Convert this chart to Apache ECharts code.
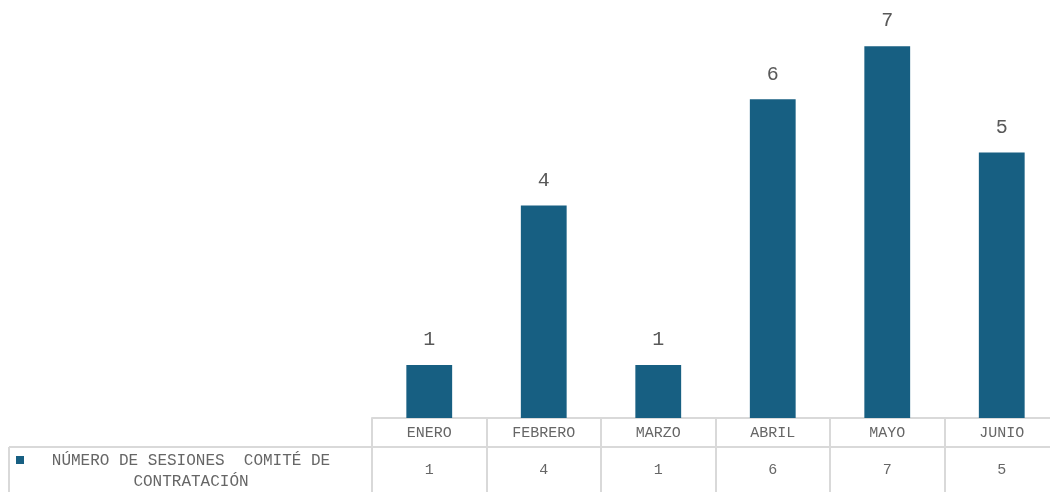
<!DOCTYPE html>
<html>
<head>
<meta charset="utf-8">
<script src="https://cdn.jsdelivr.net/npm/echarts@6/dist/echarts.min.js"></script>
<style>html,body{margin:0;padding:0;background:#fff}#c{width:1050px;height:492px}</style>
</head>
<body>
<div id="c"></div>
<script>
const categories = ['ENERO', 'FEBRERO', 'MARZO', 'ABRIL', 'MAYO', 'JUNIO'];
const values = [1, 4, 1, 6, 7, 5];
const seriesName = 'NÚMERO DE SESIONES  COMITÉ DE CONTRATACIÓN';
const headerLines = ['NÚMERO DE SESIONES  COMITÉ DE', 'CONTRATACIÓN'];

const FONT = '"Liberation Mono", "DejaVu Sans Mono", monospace';
const BAR = '#175f82';
const LINE = '#d9d9d9';
const TXT = '#666666';

const chart = echarts.init(document.getElementById('c'));
chart.setOption({
  animation: false,
  backgroundColor: '#ffffff',
  grid: { left: 372, top: -7, width: 687, height: 425, containLabel: false, outerBoundsMode: 'none' },
  xAxis: [
    {
      type: 'category',
      data: categories,
      position: 'bottom',
      axisLine: { show: true, lineStyle: { color: LINE, width: 2 } },
      axisTick: { show: true, length: 74, lineStyle: { color: LINE, width: 2 } },
      axisLabel: { color: TXT, fontFamily: FONT, fontSize: 15, margin: 8 }
    },
    {
      type: 'category',
      data: values.map(String),
      position: 'bottom',
      offset: 29,
      axisLine: { show: true, lineStyle: { color: LINE, width: 2 } },
      axisTick: { show: false },
      axisLabel: { color: TXT, fontFamily: FONT, fontSize: 15, margin: 16 }
    }
  ],
  yAxis: {
    type: 'value', min: 0, max: 8, interval: 1, show: false,
    splitLine: { show: false }
  },
  series: [{
    name: seriesName,
    type: 'bar',
    xAxisIndex: 0,
    data: values,
    barWidth: '40%',
    itemStyle: { color: BAR },
    label: {
      show: true, position: 'top', distance: 15,
      color: '#595959', fontFamily: FONT, fontSize: 20
    }
  }],
  graphic: [
    { type: 'line', shape: { x1: 9, y1: 447, x2: 372, y2: 447 }, style: { stroke: LINE, lineWidth: 2 } },
    { type: 'line', shape: { x1: 9, y1: 447, x2: 9, y2: 492 }, style: { stroke: LINE, lineWidth: 2 } },
    { type: 'line', shape: { x1: 372, y1: 418, x2: 372, y2: 492 }, style: { stroke: LINE, lineWidth: 2 } },
    { type: 'rect', shape: { x: 16, y: 456, width: 8, height: 8 }, style: { fill: BAR } },
    { type: 'text', x: 191, y: 461, style: { text: headerLines[0], fill: TXT, font: '16px ' + FONT, align: 'center', verticalAlign: 'middle' } },
    { type: 'text', x: 191, y: 482, style: { text: headerLines[1], fill: TXT, font: '16px ' + FONT, align: 'center', verticalAlign: 'middle' } }
  ]
});
</script>
</body>
</html>
